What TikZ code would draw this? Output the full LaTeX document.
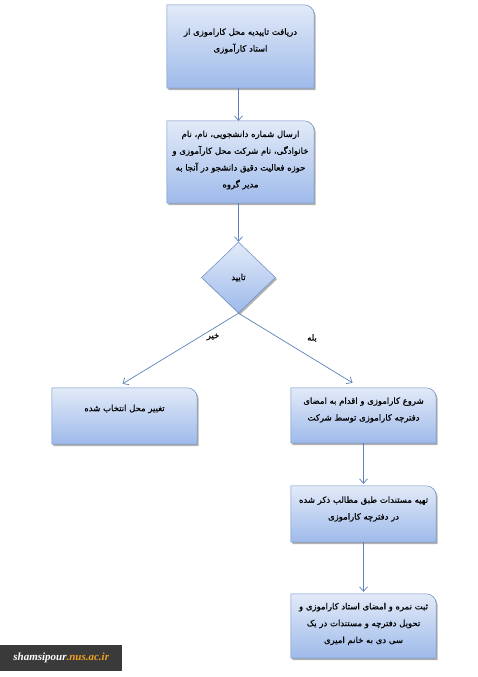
\documentclass[tikz,border=0pt]{standalone}
\usepackage{fontspec}
\usetikzlibrary{shapes.geometric,arrows.meta,backgrounds}
\TeXXeTstate=1
\newfontfamily\arabicfont[Script=Arabic,FakeBold=0.6]{DejaVu Sans}
\newfontfamily\wmfont{Liberation Serif}
\definecolor{topc}{HTML}{E2EAF8}
\definecolor{botc}{HTML}{9EBAEA}
\definecolor{edgec}{HTML}{6A8CC4}
\definecolor{linec}{HTML}{5B80BA}
\definecolor{wmbg}{HTML}{3A3A3A}
\definecolor{wmor}{HTML}{F0A020}
\tikzset{
  boxnode/.style={minimum width=#1, inner sep=0pt, draw=none},
  txt/.style={font=\arabicfont\fontsize{8.5}{16.8}\selectfont, align=center, text=black},
  lbl/.style={font=\arabicfont\fontsize{8.5}{9}\selectfont, text=black},
  conn/.style={draw=linec, line width=0.7pt, -{Straight Barb[length=4.5pt,width=8pt]}},
  decision/.style={diamond, draw=edgec, line width=0.5pt, top color=topc, bottom color=botc, inner sep=0pt, minimum width=74pt, minimum height=71pt}
}
\newcommand\flowshape[1]{%
  \begin{pgfonlayer}{background}
    \begin{scope}[transform canvas={xshift=1.5pt,yshift=-1.8pt}]
      \fill[black!30] (#1.south west) -- (#1.north west) -- ([xshift=-10pt]#1.north east)
        arc[start angle=90,end angle=0,radius=10pt] -- (#1.south east) -- cycle;
    \end{scope}
    \draw[edgec, line width=0.5pt, top color=topc, bottom color=botc]
      (#1.south west) -- (#1.north west) -- ([xshift=-10pt]#1.north east)
      arc[start angle=90,end angle=0,radius=10pt] -- (#1.south east) -- cycle;
  \end{pgfonlayer}}
\begin{document}
\begin{tikzpicture}[x=1pt,y=-1pt]
\useasboundingbox (0,0) rectangle (477,677);
% boxes
\node[boxnode=147pt, minimum height=83pt] (b1) at (240.5,46.5) {};
\node[boxnode=147pt, minimum height=82pt] (b2) at (240.5,162) {};
\node[boxnode=145pt, minimum height=56pt] (bl) at (124.5,416) {};
\node[boxnode=145pt, minimum height=55pt] (r1) at (363.5,415.5) {};
\node[boxnode=145pt, minimum height=56pt] (r2) at (363.5,514) {};
\node[boxnode=145pt, minimum height=64pt] (r3) at (363.5,626) {};
\flowshape{b1}\flowshape{b2}\flowshape{bl}\flowshape{r1}\flowshape{r2}\flowshape{r3}
% decision
\begin{scope}[transform canvas={xshift=1.5pt,yshift=-1.8pt}]
  \fill[black!30] (238.5,242) -- (275.5,277.5) -- (238.5,313) -- (201.5,277.5) -- cycle;
\end{scope}
\node[decision] (d) at (238.5,277.5) {};
% texts
\node[txt] (t1) at (240.5,41) {\beginR دریافت تاییدیه محل کاراموزی از\endR\\ \beginR استاد کارآموزی\endR};
\node[txt] (t2) at (240.5,160) {\beginR ارسال شماره دانشجویی، نام، نام\endR\\ \beginR خانوادگی، نام شرکت محل کارآموزی و\endR\\ \beginR حوزه فعالیت دقیق دانشجو در آنجا به\endR\\ \beginR مدیر گروه\endR};
\node[lbl] (td) at (d.center) {\beginR تایید\endR};
\node[txt] (tl) at (124.5,409) {\beginR تغییر محل انتخاب شده\endR};
\node[txt] (tr1) at (363.5,410) {\beginR شروع کاراموزی و اقدام به امضای\endR\\ \beginR دفترچه کاراموزی توسط شرکت\endR};
\node[txt] (tr2) at (363.5,509) {\beginR تهیه مستندات طبق مطالب ذکر شده\endR\\ \beginR در دفترچه کاراموزی\endR};
\node[txt] (tr3) at (363.5,624) {\beginR ثبت نمره و امضای استاد کاراموزی و\endR\\ \beginR تحویل دفترچه و مستندات در یک\endR\\ \beginR سی دی به خانم امیری\endR};
\node[lbl] (no) at (213,337) {\beginR خیر\endR};
\node[lbl] (yes) at (312,338) {\beginR بله\endR};
% connectors
\draw[conn] (b1.south -| d.north) -- (b2.north -| d.north);
\draw[conn] (b2.south -| d.north) -- (d.north);
\draw[conn] (d.south) -- ([xshift=-2pt,yshift=4pt]bl.north);
\draw[conn] (d.south) -- ([xshift=-11pt,yshift=5pt]r1.north);
\draw[conn] (r1.south) -- ([yshift=2pt]r2.north);
\draw[conn] (r2.south) -- ([yshift=2pt]r3.north);
% watermark
\node[fill=wmbg, anchor=north west, minimum width=122pt, minimum height=26pt, inner sep=0pt] (wm) at (0,645)
  {\wmfont\bfseries\itshape\fontsize{11}{11}\selectfont\textcolor{white}{shamsipour}\textcolor{wmor}{.nus.ac.ir}};
\end{tikzpicture}
\end{document}
